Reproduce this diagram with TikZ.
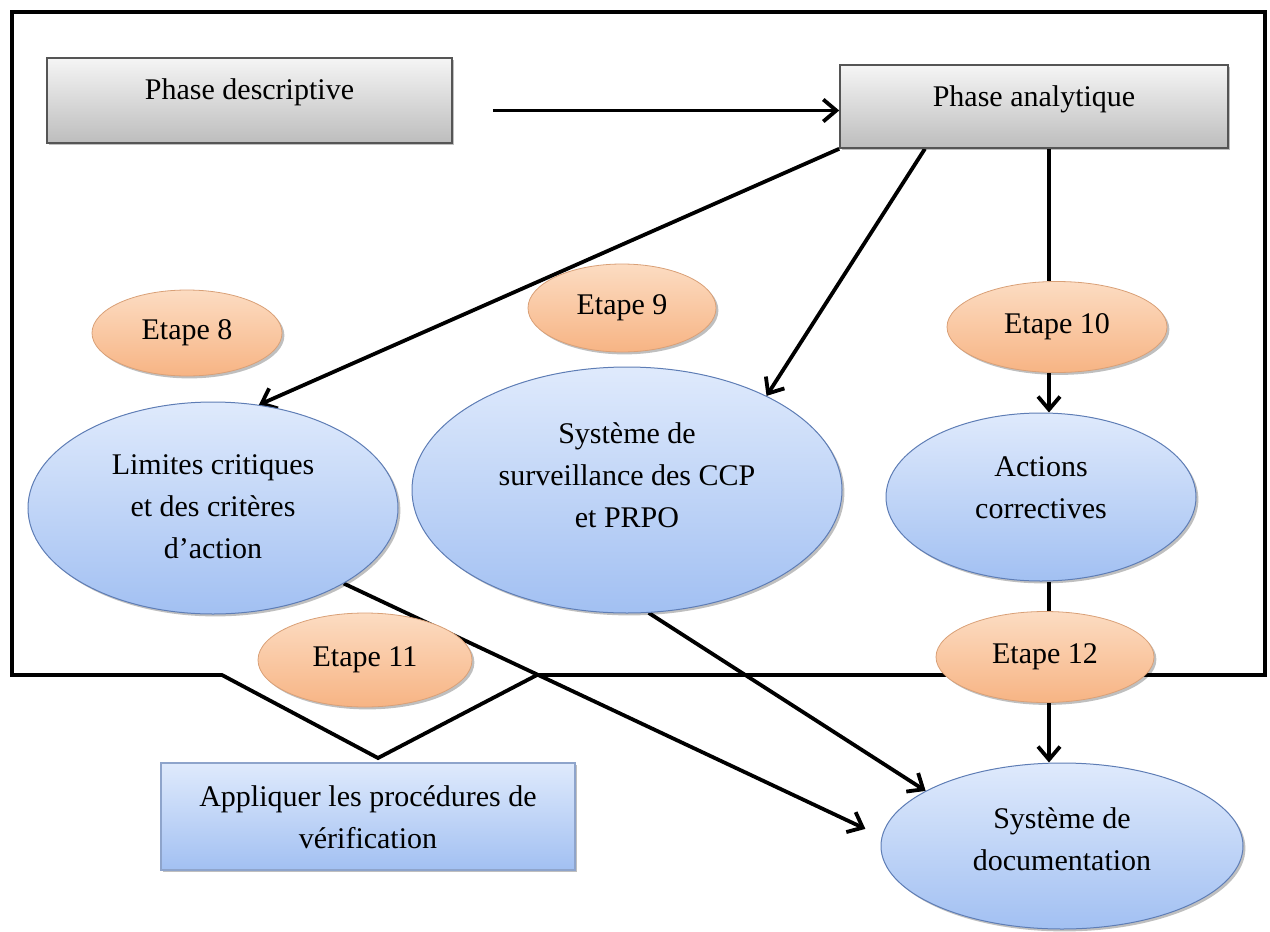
\documentclass[tikz,border=0pt]{standalone}
\usepackage{fontspec}
\setmainfont{Liberation Serif}
\usetikzlibrary{shapes.geometric,arrows.meta,shadows,calc,backgrounds}

\definecolor{oraTop}{HTML}{FCDCC2}
\definecolor{oraBot}{HTML}{F7B484}
\definecolor{oraEdge}{HTML}{D9A077}
\definecolor{bluTop}{HTML}{DFEAFC}
\definecolor{bluBot}{HTML}{A2C0F2}
\definecolor{bluEdge}{HTML}{5E7DB5}
\definecolor{gryTop}{HTML}{F5F5F5}
\definecolor{gryBot}{HTML}{BDBDBD}
\definecolor{gryEdge}{HTML}{555555}

% centred lines of text, raised by #1 without changing the node size
\newcommand\textlines[2]{\raisebox{#1}[\height][\depth]{\begin{tabular}{@{}c@{}}#2\end{tabular}}}

\begin{document}
\begin{tikzpicture}[x=0.5pt,y=-0.5pt,
  every node/.style={font=\fontsize{15}{21}\selectfont, inner sep=0pt},
  softshadow/.style={drop shadow={shadow xshift=1.2pt, shadow yshift=-1.2pt, opacity=0.25, fill=black}},
  grybox/.style={rectangle, draw=gryEdge, line width=0.8pt, top color=gryTop, bottom color=gryBot, softshadow},
  blubox/.style={rectangle, draw=bluEdge!70, line width=0.6pt, top color=bluTop, bottom color=bluBot, softshadow},
  etape/.style={ellipse, draw=oraEdge, line width=0.4pt, top color=oraTop, bottom color=oraBot, softshadow},
  bluell/.style={ellipse, draw=bluEdge, line width=0.5pt, top color=bluTop, bottom color=bluBot, softshadow},
  conn/.style={line width=1.9pt, black},
  arr/.style={conn, -{Straight Barb[length=6.5pt,width=11pt,line width=1.9pt]}},
  frame/.style={line width=1.9pt, black, line join=miter}
]
\useasboundingbox (0,0) rectangle (1270,932);

% x position of the right-hand vertical chain
\coordinate (axis) at (1049,0);

% boxes of the two phases
\node[grybox, minimum width=202.5pt, minimum height=42.5pt] (desc) at (249.5,100.5) {\textlines{4.5pt}{Phase descriptive}};
\node[grybox, minimum width=194pt, minimum height=41.5pt] (anal) at (1034,106.5) {\textlines{4pt}{Phase analytique}};

% step labels
\node[etape, minimum width=95pt, minimum height=43pt] (e8) at (187,333) {Etape 8};
\node[etape, minimum width=94pt, minimum height=44pt] (e9) at (622,308) {Etape 9};
\node[etape, minimum width=110pt, minimum height=45.5pt] (e10) at (1057,327) {Etape 10};
\node[etape, minimum width=107pt, minimum height=47pt] (e11) at (365,660) {Etape 11};
\node[etape, minimum width=109pt, minimum height=45.5pt] (e12) at (1045,657) {Etape 12};

% main stages
\node[bluell, minimum width=185pt, minimum height=106pt] (lim) at (213,508) {\textlines{0pt}{Limites critiques\\et des critères\\d’action}};
\node[bluell, minimum width=215pt, minimum height=123pt] (surv) at (627,490) {\textlines{6.5pt}{Système de\\surveillance des CCP\\et PRPO}};
\node[bluell, minimum width=155pt, minimum height=84pt] (act) at (1041,497) {\textlines{4pt}{Actions\\correctives}};
\node[bluell, minimum width=181pt, minimum height=83pt] (doc) at (1062,846) {\textlines{2.5pt}{Système de\\documentation}};
\node[blubox, minimum width=207pt, minimum height=53.5pt] (app) at (368,816.5) {\textlines{-1.5pt}{Appliquer les procédures de\\vérification}};

\begin{scope}[on background layer]
  % callout frame around the analytic phase, pointing to the verification box
  \draw[frame] (12,12) -- (1265,12) -- (1265,675) -- (537,675) -- (378,758)
               -- (222,675) -- (12,675) -- cycle;

  \draw[arr, shorten <=20pt] ([yshift=-5pt]desc.east) -- ([yshift=-5pt]desc.east -| anal.west);
  \draw[arr] (anal.south west) -- (lim.66);
  \draw[arr] ($(anal.south west)!0.22!(anal.south east)$) -- (surv.34);
  \draw[conn] (anal.south -| axis) -- (e10.north -| axis);
  \draw[arr] (e10.south -| axis) -- (act.north -| axis);
  \draw[conn] (act.south -| axis) -- (e12.north -| axis);
  \draw[arr] (e12.south -| axis) -- (doc.north -| axis);
  \draw[arr, shorten >=9pt] (lim.-30) -- (doc.177);
  \draw[arr] (surv.-80) -- (doc.158);
\end{scope}
\end{tikzpicture}
\end{document}
